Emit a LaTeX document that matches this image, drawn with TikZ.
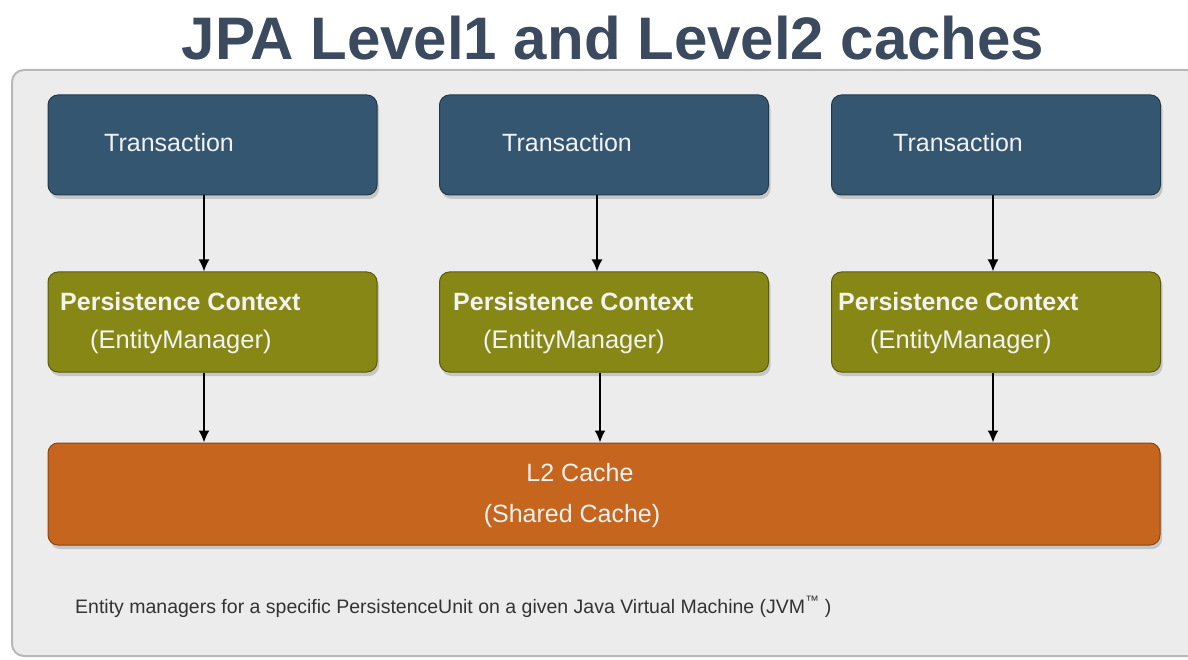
\documentclass[tikz,border=0pt]{standalone}
\usepackage{fontspec}
\setmainfont{Liberation Sans}
\usetikzlibrary{arrows.meta,shadows}
\definecolor{titlec}{HTML}{3B4A5F}
\definecolor{panelfill}{HTML}{ECECEC}
\definecolor{panelborder}{HTML}{B8B8B8}
\definecolor{txc}{HTML}{345670}
\definecolor{txborder}{HTML}{22394A}
\definecolor{pcc}{HTML}{878716}
\definecolor{pcborder}{HTML}{5A5A0C}
\definecolor{l2c}{HTML}{C6661E}
\definecolor{l2border}{HTML}{8A4510}
\definecolor{boxtext}{HTML}{F2F2F2}
\definecolor{notec}{HTML}{333333}
\tikzset{
  boxbase/.style={rounded corners=10pt, line width=1pt,
    drop shadow={shadow xshift=2pt, shadow yshift=-4pt, opacity=0.35}},
  txbox/.style={boxbase, fill=txc, draw=txborder, minimum width=329pt, minimum height=100pt},
  pcbox/.style={boxbase, fill=pcc, draw=pcborder, minimum width=329pt, minimum height=100pt},
  l2box/.style={boxbase, fill=l2c, draw=l2border, minimum width=1112pt, minimum height=102pt},
  txlabel/.style={anchor=west, text=boxtext, font=\fontsize{25}{28}\selectfont, inner sep=0pt},
  pclabel/.style={anchor=west, text=boxtext, font=\fontsize{25}{28}\selectfont\bfseries, inner sep=0pt},
  emlabel/.style={anchor=west, text=boxtext, font=\fontsize{25.5}{28}\selectfont, inner sep=0pt},
  l2label/.style={text=boxtext, font=\fontsize{25}{28}\selectfont, inner sep=0pt},
  flow/.style={line width=1.8pt, -{Latex[length=12pt,width=11pt]}}
}
\begin{document}
\begin{tikzpicture}[x=1pt,y=-1pt]
\useasboundingbox (0,0) rectangle (1188,660);
\fill[white] (0,0) rectangle (1188,660);
% title
\node[text=titlec, font=\fontsize{60}{66}\selectfont\bfseries, inner sep=0pt] (title) at (613,38) {JPA Level1 and Level2 caches};
% panel
\draw[panelborder, fill=panelfill, line width=2pt, rounded corners=12pt] (12,70) rectangle (1200,656);
% boxes
\node[txbox] (t1) at (212.5,145) {};
\node[txbox] (t2) at (604,145) {};
\node[txbox] (t3) at (996,145) {};
\node[pcbox] (p1) at (212.5,322) {};
\node[pcbox] (p2) at (604,322) {};
\node[pcbox] (p3) at (996,322) {};
\node[l2box] (l2) at (604,494) {};
% labels
\node[txlabel] (tl1) at (104,143) {Transaction};
\node[txlabel] (tl2) at (502,143) {Transaction};
\node[txlabel] (tl3) at (893,143) {Transaction};
\node[pclabel] (pl1) at (60,302) {Persistence Context};
\node[pclabel] (pl2) at (453,302) {Persistence Context};
\node[pclabel] (pl3) at (838,302) {Persistence Context};
\node[emlabel] (el1) at (90,342) {(EntityManager)};
\node[emlabel] (el2) at (483,342) {(EntityManager)};
\node[emlabel] (el3) at (870,342) {(EntityManager)};
\node[l2label] (l2a) at (580,473) {L2 Cache};
\node[l2label] (l2b) at (572,516) {(Shared Cache)};
\node[anchor=west, text=notec, font=\fontsize{19.5}{22}\selectfont, inner sep=0pt] (note) at (75,607)
  {Entity managers for a specific PersistenceUnit on a given Java Virtual Machine (JVM\textsuperscript{™} )};
% arrows
\draw[flow] (t1.south -| 204,0) -- (p1.north -| 204,0);
\draw[flow] (t2.south -| 597,0) -- (p2.north -| 597,0);
\draw[flow] (t3.south -| 993,0) -- (p3.north -| 993,0);
\draw[flow] (p1.south -| 204,0) -- (l2.north -| 204,0);
\draw[flow] (p2.south -| 600,0) -- (l2.north -| 600,0);
\draw[flow] (p3.south -| 993,0) -- (l2.north -| 993,0);
\end{tikzpicture}
\end{document}
